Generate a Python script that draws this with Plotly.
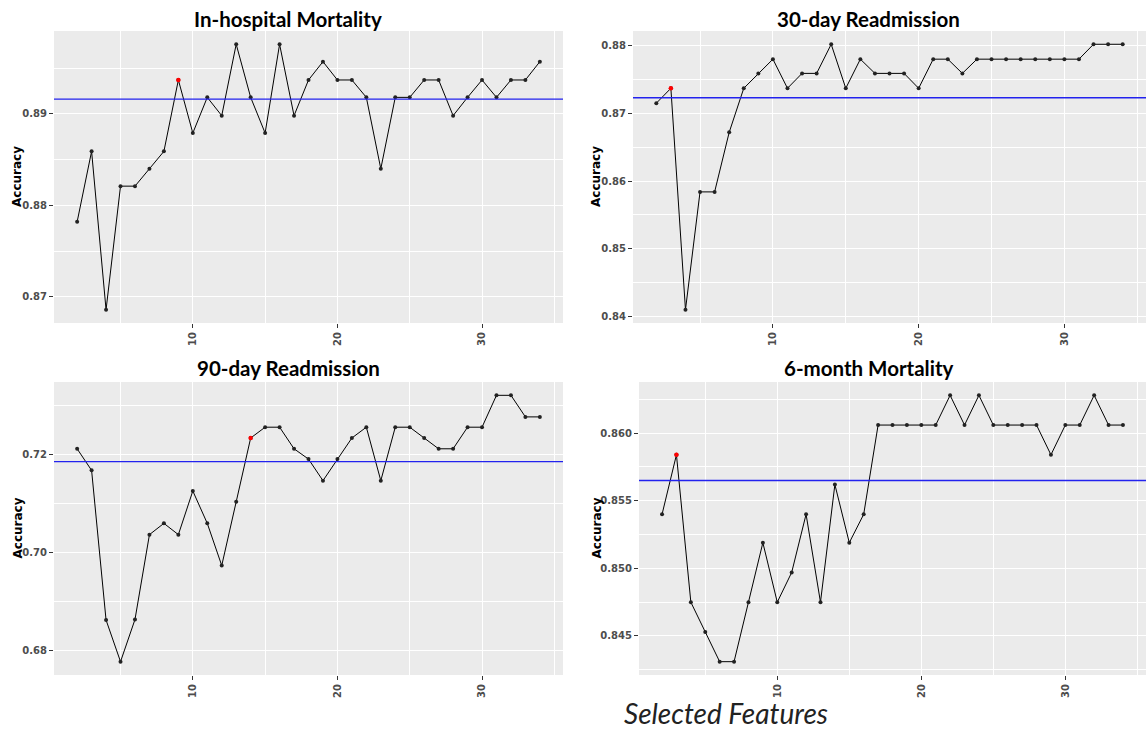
import plotly.graph_objects as go

features = list(range(2, 35))

titles = ["In-hospital Mortality", "30-day Readmission", "90-day Readmission", "6-month Mortality"]

inhospital_mortality = [0.8782, 0.8859, 0.8686, 0.8821, 0.8821, 0.8840, 0.8859, 0.8937, 0.8879, 0.8918,
                        0.8898, 0.8976, 0.8918, 0.8879, 0.8976, 0.8898, 0.8937, 0.8957, 0.8937, 0.8937,
                        0.8918, 0.8840, 0.8918, 0.8918, 0.8937, 0.8937, 0.8898, 0.8918, 0.8937, 0.8918,
                        0.8937, 0.8937, 0.8957]
readmission_30 = [0.8715, 0.8737, 0.8410, 0.8584, 0.8584, 0.8672, 0.8737, 0.8759, 0.8780, 0.8737,
                  0.8759, 0.8759, 0.8802, 0.8737, 0.8780, 0.8759, 0.8759, 0.8759, 0.8737, 0.8780,
                  0.8780, 0.8759, 0.8780, 0.8780, 0.8780, 0.8780, 0.8780, 0.8780, 0.8780, 0.8780,
                  0.8802, 0.8802, 0.8802]
readmission_90 = [0.7212, 0.7168, 0.6863, 0.6778, 0.6864, 0.7037, 0.7060, 0.7037, 0.7126, 0.7060,
                  0.6974, 0.7104, 0.7234, 0.7256, 0.7256, 0.7212, 0.7191, 0.7147, 0.7191, 0.7234,
                  0.7256, 0.7147, 0.7256, 0.7256, 0.7234, 0.7212, 0.7212, 0.7256, 0.7256, 0.7321,
                  0.7321, 0.7277, 0.7277]
mortality_6m = [0.8540, 0.8584, 0.8475, 0.8453, 0.8431, 0.8431, 0.8475, 0.8519, 0.8475, 0.8497,
                0.8540, 0.8475, 0.8562, 0.8519, 0.8540, 0.8606, 0.8606, 0.8606, 0.8606, 0.8606,
                0.8628, 0.8606, 0.8628, 0.8606, 0.8606, 0.8606, 0.8606, 0.8584, 0.8606, 0.8606,
                0.8628, 0.8606, 0.8606]

baselines = [0.8916, 0.8723, 0.7186, 0.8565]
best_features = [9, 3, 14, 3]

y_dticks = [0.01, 0.01, 0.02, 0.005]
y_formats = [".2f", ".2f", ".2f", ".3f"]

series = [inhospital_mortality, readmission_30, readmission_90, mortality_6m]

W, H = 1146, 731
# panel boxes in pixels: (left, right, top, bottom)
boxes = [(54, 563, 31, 323), (633, 1146, 31, 323), (54, 563, 382, 675), (639, 1146, 382, 675)]
title_pos = [(288, 19), (868, 19), (288, 368), (869, 368)]
ylab_x = [17, 596, 17, 596]

fig = go.Figure()

tickfont = dict(family="DejaVu Sans", size=10, color="#4D4D4D", weight="bold")

def expand(lo, hi, f=0.05):
    d = hi - lo
    return [lo - f * d, hi + f * d]

for i in range(4):
    ax = "" if i == 0 else str(i + 1)
    xa, ya = "x" + ax, "y" + ax
    ys = series[i]
    fig.add_trace(go.Scatter(x=features, y=ys, mode="lines+markers", xaxis=xa, yaxis=ya,
                             line=dict(color="black", width=1),
                             marker=dict(color="#222222", size=4), showlegend=False))
    bi = features.index(best_features[i])
    fig.add_trace(go.Scatter(x=[features[bi]], y=[ys[bi]], mode="markers", xaxis=xa, yaxis=ya,
                             marker=dict(color="red", size=4.5), showlegend=False))
    l, r, t, b = boxes[i]
    xr = expand(min(features), max(features))
    yr = expand(min(ys), max(ys))
    fig.layout["xaxis" + ax] = dict(
        domain=[l / W, r / W], anchor=ya, range=xr, automargin=False,
        tick0=0, dtick=10, ticks="outside", ticklen=4, tickcolor="#333333", tickwidth=1,
        tickangle=-90, tickfont=tickfont, showgrid=True, gridcolor="white", gridwidth=1.1,
        minor=dict(dtick=5, tick0=0, showgrid=True, gridcolor="white", gridwidth=0.5, ticks=""),
        zeroline=False, showline=False, fixedrange=True)
    fig.layout["yaxis" + ax] = dict(
        domain=[1 - b / H, 1 - t / H], anchor=xa, range=yr, automargin=False,
        tick0=0, dtick=y_dticks[i], tickformat=y_formats[i],
        ticks="outside", ticklen=4, tickcolor="#333333", tickwidth=1,
        tickfont=tickfont, showgrid=True, gridcolor="white", gridwidth=1.1,
        minor=dict(dtick=y_dticks[i] / 2, tick0=0, showgrid=True, gridcolor="white", gridwidth=0.5, ticks=""),
        zeroline=False, showline=False, fixedrange=True)
    fig.add_shape(type="line", xref=xa + " domain", yref=ya, x0=0, x1=1,
                  y0=baselines[i], y1=baselines[i], line=dict(color="#2222ee", width=1.3))
    tx, ty = title_pos[i]
    fig.add_annotation(text=titles[i], x=tx / W, y=1 - ty / H, xref="paper", yref="paper",
                       xanchor="center", yanchor="middle", showarrow=False,
                       font=dict(family="Lato", size=20.5, color="black", weight="bold"))
    fig.add_annotation(text="Accuracy", x=ylab_x[i] / W, y=1 - (t + b) / 2 / H, xref="paper", yref="paper",
                       xanchor="center", yanchor="middle", showarrow=False, textangle=-90,
                       font=dict(family="DejaVu Sans", size=12, color="black", weight="bold"))

fig.add_annotation(text="Selected Features", x=726 / W, y=1 - 713 / H, xref="paper", yref="paper",
                   xanchor="center", yanchor="middle", showarrow=False, borderpad=0,
                   font=dict(family="Lato", size=28, color="#222222", style="italic"))

fig.update_layout(width=W, height=H, margin=dict(l=0, r=0, t=0, b=0, autoexpand=False),
                  paper_bgcolor="white", plot_bgcolor="#EBEBEB")

fig.write_html("out.html", config={"displayModeBar": False},
               post_script="document.body.style.margin='0px';document.body.style.overflow='hidden';")
